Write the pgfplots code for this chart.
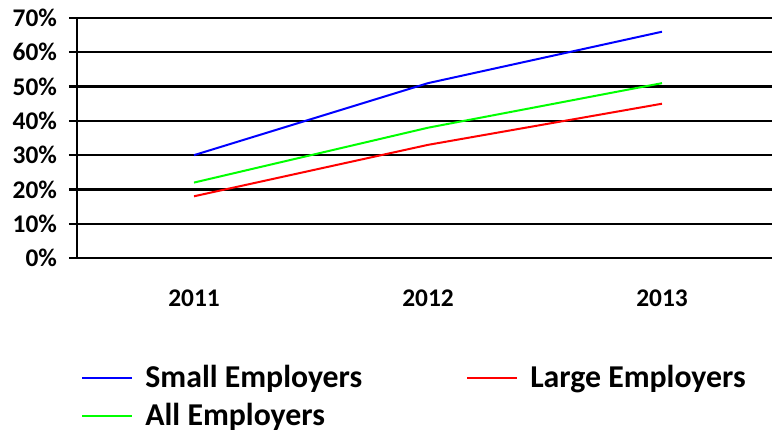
\documentclass[border=0pt]{standalone}
\usepackage{pgfplots}
\pgfplotsset{compat=1.18}
\usepackage{fontspec}
\setmainfont{Carlito}
\begin{document}
\begin{tikzpicture}
\begin{axis}[
  width=347.5pt, height=120pt, scale only axis,
  xmin=-0.5, xmax=2.47, ymin=0, ymax=70,
  axis x line=bottom, axis y line=left,
  axis line style={-, line width=1.2pt, black},
  xtick={0,1,2}, xticklabels={2011,2012,2013},
  xtick style={draw=none},
  extra x ticks={-0.5,0.5,1.5}, extra x tick labels={},
  extra x tick style={tick style={draw=black, line width=1.2pt}, major tick length=4pt, tick align=outside, grid=none},
  ytick={0,10,...,70},
  yticklabel={\pgfmathprintnumber{\tick}\%},
  ytick style={line width=1.2pt, black}, major tick length=4pt, tick align=outside,
  ymajorgrids, grid style={line width=1.2pt, black},
  /pgf/number format/assume math mode=true,
  ticklabel style={font=\bfseries\fontsize{12.7}{13}\selectfont},
  xticklabel style={yshift=-8.5pt},
  yticklabel style={xshift=-2.5pt},
  legend columns=2,
  legend cell align=left,
  legend style={at={(axis description cs:0.0,-0.42)}, xshift=-1pt, yshift=1pt, anchor=north west, draw=none, fill=none,
    font=\bfseries\fontsize{15.9}{17}\selectfont, row sep=2.5pt,
    /tikz/every even column/.append style={column sep=50pt}},
  legend image code/.code={\draw[#1, line width=1pt] (0pt,0pt) -- (25pt,0pt); \path (29pt,0pt);},
  clip=false,
]
\addplot[blue, line width=1pt] coordinates {(0,30) (1,51) (2,66)};
\addlegendentry{Small Employers}
\addplot[red, line width=1pt] coordinates {(0,18) (1,33) (2,45)};
\addlegendentry{Large Employers}
\addplot[green, line width=1pt] coordinates {(0,22) (1,38) (2,51)};
\addlegendentry{All Employers}
\end{axis}
\pgfresetboundingbox
\path (current axis.south west) ++(-38.5pt,-87pt) coordinate (bl);
\path (current axis.north east) ++(0pt,9pt) coordinate (tr);
\useasboundingbox (bl) rectangle (tr);
\end{tikzpicture}
\end{document}
